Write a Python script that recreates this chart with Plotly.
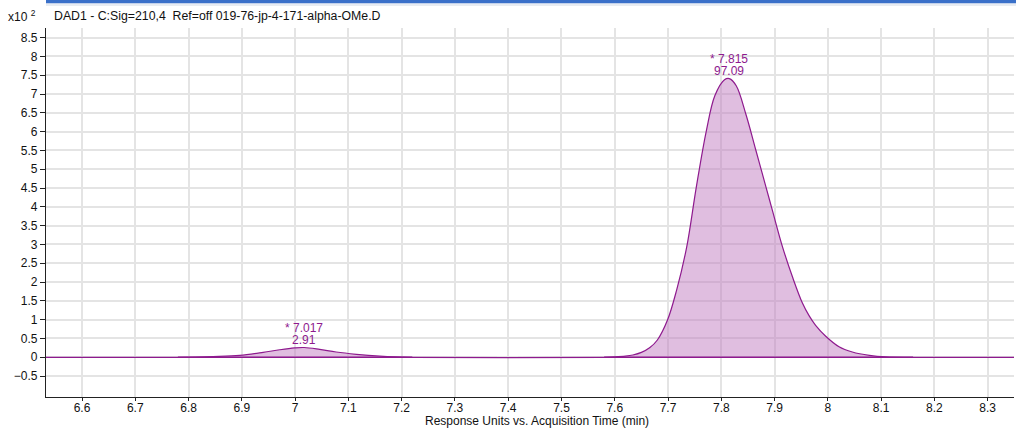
import plotly.graph_objects as go

# Chromatogram trace (DAD1, 210 nm), response in units of x10^2
minor_time = [6.780, 6.846, 6.896, 6.940, 6.971, 6.999, 7.017, 7.046, 7.077, 7.115, 7.159, 7.190, 7.220]
minor_resp = [0.00, 0.02, 0.05, 0.13, 0.20, 0.25, 0.26, 0.21, 0.14, 0.08, 0.03, 0.01, 0.00]

major_time = [7.580, 7.600, 7.620, 7.634, 7.650, 7.666, 7.680, 7.699, 7.716, 7.735, 7.753, 7.772,
              7.788, 7.806, 7.815, 7.828, 7.846, 7.865, 7.884, 7.896, 7.915, 7.934, 7.952, 7.965,
              7.977, 7.996, 8.021, 8.046, 8.078, 8.109, 8.160]
major_resp = [0.00, 0.01, 0.03, 0.06, 0.13, 0.26, 0.46, 0.99, 1.78, 2.93, 4.52, 6.03,
              6.96, 7.38, 7.41, 7.22, 6.47, 5.50, 4.52, 3.90, 2.93, 2.12, 1.45, 1.10,
              0.85, 0.56, 0.28, 0.14, 0.05, 0.01, 0.00]

run_start, run_end = 6.5324, 8.3494

# Integrated peaks: retention time, area %
peak_rt = [7.017, 7.815]
peak_area = [2.91, 97.09]
peak_height = [0.26, 7.41]

x_ticks = [6.6, 6.7, 6.8, 6.9, 7.0, 7.1, 7.2, 7.3, 7.4, 7.5, 7.6, 7.7, 7.8, 7.9, 8.0, 8.1, 8.2, 8.3]
x_tick_text = ["6.6", "6.7", "6.8", "6.9", "7", "7.1", "7.2", "7.3", "7.4", "7.5", "7.6", "7.7",
               "7.8", "7.9", "8", "8.1", "8.2", "8.3"]
y_ticks = [-0.5, 0, 0.5, 1, 1.5, 2, 2.5, 3, 3.5, 4, 4.5, 5, 5.5, 6, 6.5, 7, 7.5, 8, 8.5]
y_range = [-1.056, 8.757]

title_text = "DAD1 - C:Sig=210,4  Ref=off 019-76-jp-4-171-alpha-OMe.D"
x_title = "Response Units vs. Acquisition Time (min)"

LINE = "#8e1a8e"
FILL = "rgba(190,120,190,0.48)"
GRID = "#e4e4e4"
FONT = "Liberation Sans, Arial, Helvetica, sans-serif"
SPLINE = dict(shape="spline", smoothing=1.0)

W, H = 1016, 428
ML, MR, MT, MB = 46, 2, 28, 31
plot_h = H - MT - MB
plot_w = W - ML - MR

fig = go.Figure()

# shaded integration areas
for t, r in [(minor_time, minor_resp), (major_time, major_resp)]:
    fig.add_trace(go.Scatter(x=t, y=r, mode="lines", line=dict(width=0, **SPLINE),
                             fill="tozeroy", fillcolor=FILL, hoverinfo="skip", showlegend=False))
    # integration baseline
    fig.add_trace(go.Scatter(x=[t[0], t[-1]], y=[0, 0], mode="lines",
                             line=dict(color=LINE, width=1.6), showlegend=False, hoverinfo="skip"))

# full signal
sig_t = [run_start] + minor_time + major_time + [run_end]
sig_r = [0.0] + minor_resp + major_resp + [0.0]
fig.add_trace(go.Scatter(x=sig_t, y=sig_r, mode="lines",
                         line=dict(color=LINE, width=1.2, **SPLINE),
                         showlegend=False))

# peak labels
for rt, area, h in zip(peak_rt, peak_area, peak_height):
    fig.add_annotation(x=rt, y=h, text=f"{area:.2f}", showarrow=False, yanchor="bottom",
                       yshift=-1, font=dict(family=FONT, size=12, color=LINE))
    fig.add_annotation(x=rt, y=h, text=f"* {rt:.3f}", showarrow=False, yanchor="bottom",
                       yshift=11, font=dict(family=FONT, size=12, color=LINE))

# header
fig.add_annotation(xref="paper", yref="paper", x=(52 - ML) / plot_w, y=1 + (MT - 16) / plot_h,
                   xanchor="left", yanchor="middle", text=title_text, showarrow=False,
                   font=dict(family=FONT, size=12.3, color="#111111"))
fig.add_annotation(xref="paper", yref="paper", x=(6 - ML) / plot_w, y=1 + (MT - 16) / plot_h,
                   xanchor="left", yanchor="middle", text="x10 <sup>2</sup>", showarrow=False,
                   font=dict(family=FONT, size=12, color="#111111"))
fig.add_annotation(xref="paper", yref="paper", x=(537 - ML) / plot_w, y=-(421 - (H - MB)) / plot_h,
                   xanchor="center", yanchor="middle", text=x_title, showarrow=False,
                   font=dict(family=FONT, size=12, color="#111111"))

# window frame strip at top
fig.add_shape(type="rect", xref="paper", yref="paper",
              x0=0, x1=(W - ML) / plot_w,
              y0=1 + (MT - 3.5) / plot_h, y1=1 + (MT + 1) / plot_h,
              line=dict(width=0), fillcolor="#3a70c9", layer="above")
fig.add_shape(type="rect", xref="paper", yref="paper",
              x0=0, x1=(W - ML) / plot_w,
              y0=1 + (MT - 6) / plot_h, y1=1 + (MT - 3.5) / plot_h,
              line=dict(width=0), fillcolor="#e8ecf2", layer="above")

fig.update_layout(
    width=W, height=H,
    margin=dict(l=ML, r=MR, t=MT, b=MB, pad=0),
    paper_bgcolor="white", plot_bgcolor="white",
    font=dict(family=FONT, size=12, color="#111111"),
    showlegend=False,
)
fig.update_xaxes(range=[run_start, run_end], tickmode="array", tickvals=x_ticks, ticktext=x_tick_text,
                 showgrid=True, gridcolor=GRID, gridwidth=1.5, zeroline=False,
                 showline=True, linecolor="#222222", linewidth=1.2,
                 ticks="outside", ticklen=3, tickcolor="#222222", tickfont=dict(size=12),
                 ticklabelstandoff=-4)
fig.update_yaxes(range=y_range, tickmode="array", tickvals=y_ticks,
                 showgrid=True, gridcolor=GRID, gridwidth=1.5, zeroline=False,
                 showline=True, linecolor="#222222", linewidth=1.2,
                 ticks="outside", ticklen=5, tickcolor="#222222", tickfont=dict(size=12))

fig.write_html("out.html")
